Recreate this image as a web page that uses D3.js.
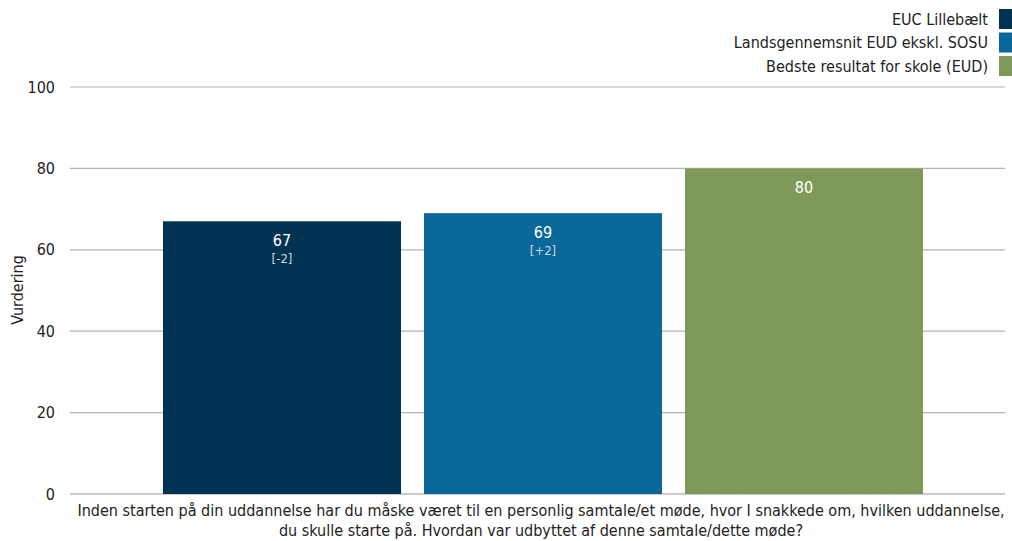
<!DOCTYPE html>
<html><head><meta charset="utf-8">
<script src="https://cdn.jsdelivr.net/npm/d3@7"></script>
<style>body{margin:0;background:#fff}svg{display:block}text{font-family:"DejaVu Sans Condensed","DejaVu Sans",sans-serif}</style>
</head><body><svg id="c" width="1012" height="541"></svg>
<script>
const series = ["EUC Lillebælt", "Landsgennemsnit EUD ekskl. SOSU", "Bedste resultat for skole (EUD)"];
const values = [67, 69, 80];
const diffs = ["[-2]", "[+2]", null];
const colors = ["#003352", "#09679a", "#7f9a58"];
const yTicks = [0, 20, 40, 60, 80, 100];
const categoryLines = ["Inden starten på din uddannelse har du måske været til en personlig samtale/et møde, hvor I snakkede om, hvilken uddannelse,", "du skulle starte på. Hvordan var udbyttet af denne samtale/dette møde?"];
const yLabel = "Vurdering";

const svg = d3.select("#c");
const y = d3.scaleLinear().domain([0, 100]).range([494, 87]);
const x = d3.scaleBand().domain(series).range([163, 923]).paddingInner(0.088).paddingOuter(0);

svg.append("g").selectAll("line").data(yTicks).join("line")
  .attr("x1", 70).attr("x2", 1005).attr("y1", d => y(d)).attr("y2", d => y(d))
  .attr("stroke", d => d === 0 ? "#999" : "#b3b3b3").attr("stroke-width", 1.2);

const yAxis = d3.axisLeft(y).tickValues(yTicks).tickSize(0).tickPadding(0);
const ga = svg.append("g").attr("transform", "translate(55,0)").call(yAxis);
ga.select(".domain").remove();
ga.selectAll("text").attr("font-size", 16).attr("fill", "#222").attr("font-family", '"DejaVu Sans Condensed","DejaVu Sans",sans-serif');

svg.append("text").attr("transform", "translate(23,290) rotate(-90)").attr("text-anchor", "middle")
  .attr("font-size", 16).attr("fill", "#222").text(yLabel);

svg.append("g").selectAll("rect").data(values).join("rect")
  .attr("x", (d, i) => x(series[i])).attr("width", x.bandwidth())
  .attr("y", d => y(d)).attr("height", d => y(0) - y(d)).attr("fill", (d, i) => colors[i]);

svg.append("g").selectAll("text").data(values).join("text")
  .attr("x", (d, i) => x(series[i]) + x.bandwidth() / 2).attr("y", d => y(d) + 25)
  .attr("text-anchor", "middle").attr("font-size", 16).attr("fill", "#fff").text(d => d);
svg.append("g").selectAll("text").data(diffs.map((t, i) => ({t, i})).filter(d => d.t)).join("text")
  .attr("x", d => x(series[d.i]) + x.bandwidth() / 2).attr("y", d => y(values[d.i]) + 42)
  .attr("text-anchor", "middle").attr("font-size", 13).attr("fill", "#d0d8e0").text(d => d.t);

svg.append("g").selectAll("text").data(categoryLines).join("text")
  .attr("x", 541).attr("y", (d, i) => 516 + i * 20).attr("text-anchor", "middle")
  .attr("font-size", 16).attr("fill", "#222").text(d => d);

const lg = svg.append("g").selectAll("g").data(series).join("g")
  .attr("transform", (d, i) => `translate(0,${9 + i * 23.5})`);
lg.append("rect").attr("x", 999).attr("y", 0).attr("width", 14).attr("height", 20).attr("fill", (d, i) => colors[i]);
lg.append("text").attr("x", 988).attr("y", 15.5).attr("text-anchor", "end").attr("font-size", 16).attr("fill", "#222").text(d => d);
</script></body></html>
